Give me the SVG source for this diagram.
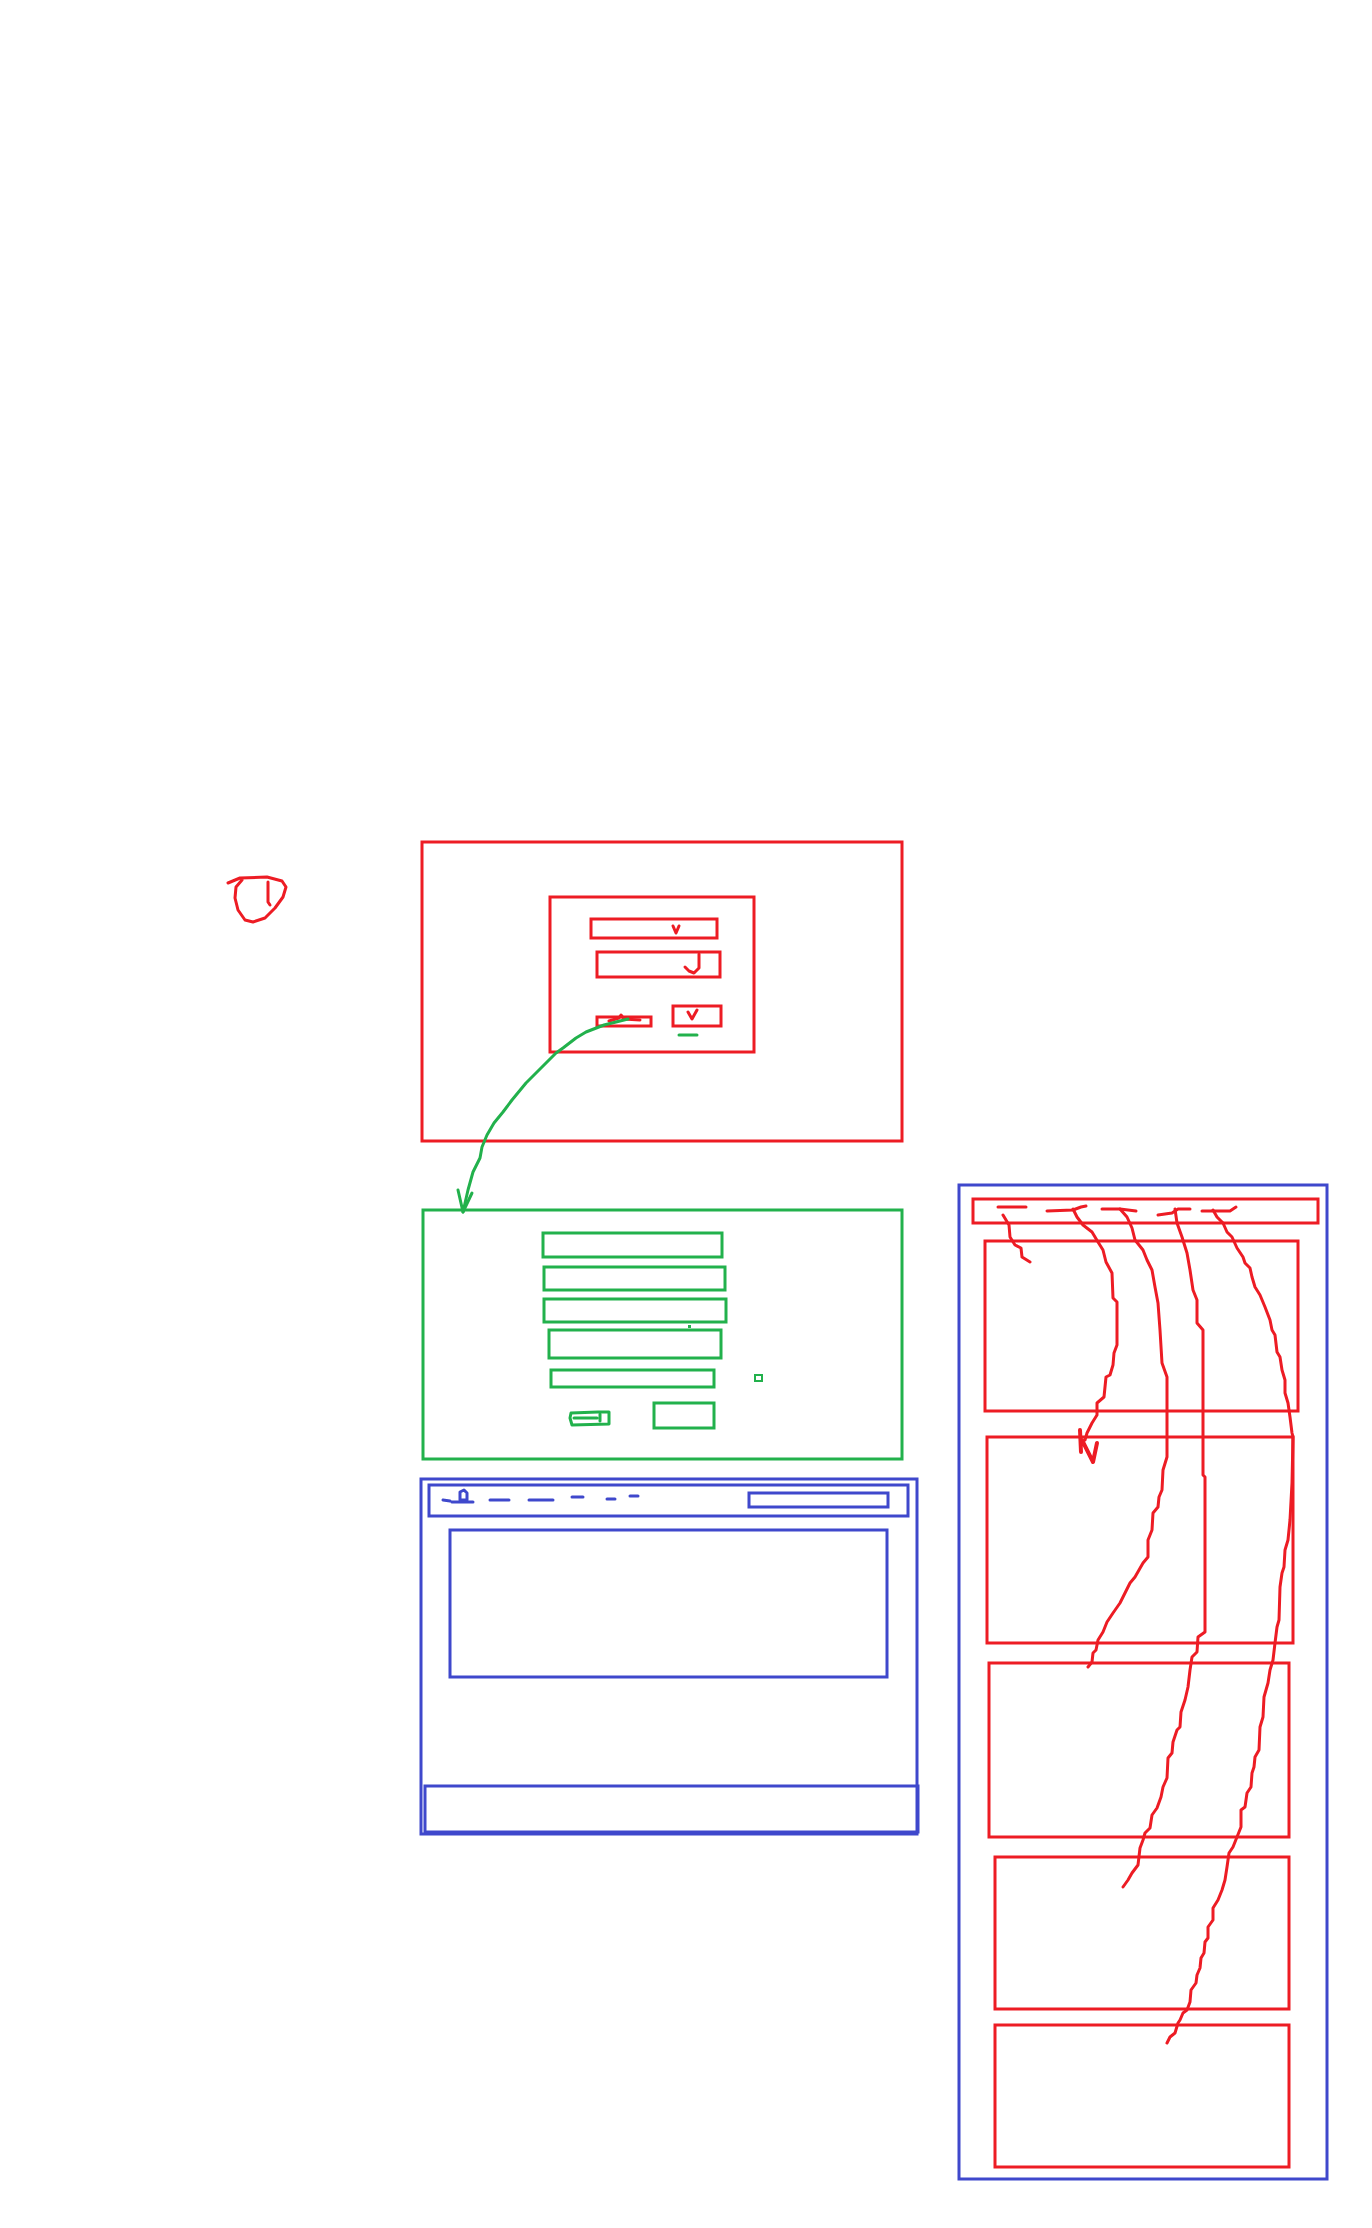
<svg xmlns="http://www.w3.org/2000/svg" width="1372" height="2228" viewBox="0 0 1372 2228">
<style>
.r{fill:none;stroke:#ED1C24;stroke-width:3}
.g{fill:none;stroke:#22B14C;stroke-width:3}
.b{fill:none;stroke:#3F48CC;stroke-width:3}
.rs{fill:none;stroke:#ED1C24;stroke-width:3;stroke-linecap:round;stroke-linejoin:round}
.gs{fill:none;stroke:#22B14C;stroke-width:3;stroke-linecap:round;stroke-linejoin:round}
.bs{fill:none;stroke:#3F48CC;stroke-width:3;stroke-linecap:round;stroke-linejoin:round}
</style>
<rect width="1372" height="2228" fill="#ffffff"/>

<g id="mark-circle">
<path class="rs" d="M228,883 L240,878 L267,877 L282,881 L286,887 L283,897 L275,908 L265,918 L253,922 L245,920 L238,910 L235,898 L236,887 L242,880"/>
<path class="rs" d="M268,882 L268,902 L270,905"/>
</g>

<g id="login-page">
<rect class="r" x="422" y="842" width="480" height="299"/>
<rect class="r" x="550" y="897" width="204" height="155"/>
<rect class="r" x="591" y="919" width="126" height="19"/>
<path class="rs" d="M673,926 L676,933 L679,926"/>
<rect class="r" x="597" y="952" width="123" height="25"/>
<path class="rs" d="M699,954 L699,968 L694,973 L689,971 L685,967"/>
<rect class="r" x="597" y="1017" width="54" height="9"/>
<path class="rs" d="M609,1021 L619,1018 L621,1015 L624,1019 L640,1020"/>
<rect class="r" x="673" y="1006" width="48" height="20"/>
<path class="rs" d="M688,1012 L692,1019 L697,1010"/>
<path class="gs" d="M679,1035 L697,1035"/>
</g>

<g id="register-page">
<rect class="g" x="423" y="1210" width="479" height="249"/>
<rect class="g" x="543" y="1233" width="179" height="24"/>
<rect class="g" x="544" y="1267" width="181" height="23"/>
<rect class="g" x="544" y="1299" width="182" height="23"/>
<rect x="688" y="1325" width="3" height="3" fill="#22B14C"/>
<rect class="g" x="549" y="1330" width="172" height="28"/>
<rect class="g" x="551" y="1370" width="163" height="17"/>
<rect x="755" y="1375" width="7" height="6" fill="none" stroke="#22B14C" stroke-width="2"/>
<rect class="g" x="654" y="1403" width="60" height="25"/>
<path class="gs" d="M571,1413 L598,1412 L609,1412 L609,1424 L572,1425 L570,1418 Z"/>
<path class="gs" d="M574,1418 L597,1418 M600,1414 L600,1421"/>
</g>

<g id="home-page">
<rect class="b" x="421" y="1479" width="496" height="355"/>
<rect class="b" x="429" y="1485" width="479" height="31"/>
<rect class="b" x="749" y="1493" width="139" height="14"/>
<path class="bs" d="M443,1500 L450,1501 M452,1502 L473,1502 M460,1500 L460,1492 L464,1490 L467,1493 L467,1500 Z"/>
<path class="bs" d="M490,1500 L509,1500 M529,1500 L553,1500 M572,1497 L583,1497 M607,1499 L615,1499 M630,1496 L638,1496"/>
<rect class="b" x="450" y="1530" width="437" height="147"/>
<rect class="b" x="425" y="1786" width="493" height="46"/>
</g>

<g id="list-page">
<rect class="b" x="959" y="1185" width="368" height="994"/>
<rect class="r" x="973" y="1199" width="345" height="24"/>
<rect class="r" x="985" y="1241" width="313" height="170"/>
<rect class="r" x="987" y="1437" width="306" height="206"/>
<rect class="r" x="989" y="1663" width="300" height="174"/>
<rect class="r" x="995" y="1857" width="294" height="152"/>
<rect class="r" x="995" y="2025" width="294" height="142"/>
<path class="rs" d="M998,1207 L1026,1207"/>
<path class="rs" d="M1047,1211 L1073,1210 L1081,1207 L1086,1206"/>
<path class="rs" d="M1102,1209 L1120,1209 L1136,1211"/>
<path class="rs" d="M1158,1215 L1172,1213 L1178,1209 L1190,1209"/>
<path class="rs" d="M1202,1211 L1230,1211 L1236,1207"/>
</g>

<g id="connectors">
<path class="gs" d="M628,1019 L604,1025 L586,1032 L576,1038 L563,1048 L556,1053 L542,1067 L526,1083 L512,1100 L503,1112 L494,1123 L487,1135 L482,1147 L480,1158 L473,1172 L468,1190 L463,1212"/>
<path class="gs" d="M458,1190 L463,1212 L472,1193"/>
<path class="rs" d="M1003,1215 L1009,1225 L1010,1237 L1015,1245 L1021,1248 L1022,1257 L1030,1262"/>
<path class="rs" d="M1073,1209 L1077,1217 L1083,1225 L1092,1232 L1098,1242 L1103,1250 L1106,1262 L1112,1273 L1113,1298 L1117,1302 L1117,1345 L1114,1353 L1113,1365 L1110,1375 L1106,1377 L1104,1397 L1097,1403 L1097,1415 L1092,1423 L1087,1433 L1085,1440"/>
<path class="rs" d="M1080,1430 L1081,1452 M1082,1440 L1093,1462 L1097,1443" style="stroke-width:4"/>
<path class="rs" d="M1120,1209 L1127,1217 L1132,1228 L1135,1240 L1143,1250 L1147,1260 L1152,1270 L1155,1287 L1158,1303 L1160,1330 L1162,1363 L1167,1377 L1167,1457 L1163,1470 L1162,1490 L1159,1497 L1158,1507 L1153,1513 L1152,1530 L1148,1540 L1148,1557 L1143,1563 L1135,1577 L1130,1583 L1125,1593 L1120,1603 L1113,1613 L1107,1622 L1103,1632 L1098,1640 L1096,1650 L1093,1653 L1092,1662 L1088,1667"/>
<path class="rs" d="M1175,1209 L1177,1223 L1182,1237 L1187,1253 L1190,1270 L1193,1290 L1197,1300 L1197,1323 L1203,1330 L1203,1475 L1205,1477 L1205,1632 L1198,1637 L1197,1652 L1192,1657 L1190,1670 L1188,1687 L1185,1700 L1181,1712 L1180,1727 L1177,1730 L1173,1742 L1172,1753 L1168,1758 L1167,1778 L1163,1787 L1161,1797 L1157,1808 L1152,1815 L1150,1828 L1145,1833 L1143,1840 L1140,1848 L1138,1865 L1132,1873 L1128,1880 L1123,1887"/>
<path class="rs" d="M1213,1210 L1217,1217 L1223,1223 L1227,1232 L1232,1237 L1237,1248 L1243,1257 L1245,1263 L1250,1268 L1252,1277 L1255,1287 L1260,1295 L1265,1307 L1270,1320 L1272,1330 L1275,1335 L1277,1352 L1280,1357 L1282,1370 L1285,1380 L1285,1393 L1288,1403 L1290,1417 L1292,1433 L1293,1437 L1292,1483 L1290,1520 L1288,1540 L1285,1550 L1284,1567 L1282,1573 L1280,1587 L1279,1620 L1277,1627 L1275,1643 L1273,1660 L1270,1670 L1268,1683 L1264,1697 L1263,1717 L1260,1727 L1259,1750 L1255,1757 L1254,1767 L1252,1773 L1251,1787 L1247,1793 L1245,1807 L1241,1810 L1241,1827 L1237,1837 L1233,1847 L1229,1853 L1227,1867 L1225,1880 L1222,1890 L1218,1900 L1213,1908 L1213,1920 L1208,1927 L1208,1938 L1205,1942 L1204,1953 L1201,1958 L1200,1968 L1197,1975 L1196,1983 L1191,1990 L1190,2002 L1187,2010 L1183,2013 L1180,2020 L1178,2023 L1175,2033 L1170,2037 L1167,2043"/>
</g>
</svg>
